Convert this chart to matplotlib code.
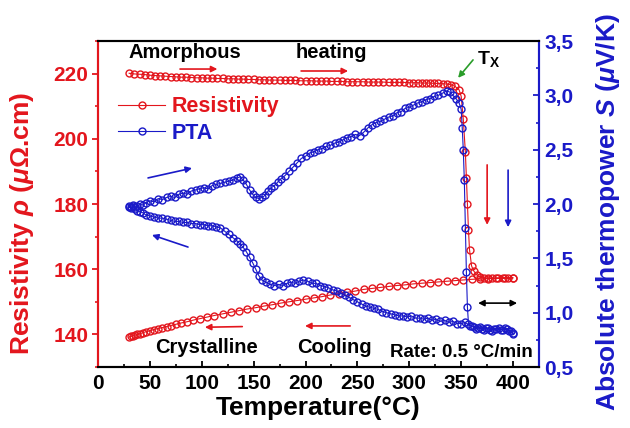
import matplotlib
matplotlib.use('Agg')
import matplotlib.pyplot as plt
from matplotlib.ticker import MultipleLocator, FuncFormatter

plt.rcParams['font.family'] = ['Liberation Sans', 'DejaVu Sans']
plt.rcParams['font.weight'] = 'bold'
plt.rcParams['mathtext.fontset'] = 'custom'
plt.rcParams['mathtext.rm'] = 'Liberation Sans'
plt.rcParams['mathtext.it'] = 'Liberation Sans:italic'
plt.rcParams['mathtext.bf'] = 'Liberation Sans:bold'

RED = '#e3161d'
BLUE = '#1a1ac8'

# resistivity, heating branch (T in C, rho in uOhm.cm)
t_rho_heat = [30, 35, 40, 45, 50, 55, 60, 65, 70, 75, 80, 85, 90, 95, 100, 105, 110, 115,
              120, 125, 130, 135, 140, 145, 150, 155, 160, 165, 170, 175, 180, 185, 190, 195,
              200, 205, 210, 215, 220, 225, 230, 235, 240, 245, 250, 255, 260, 265, 270,
              275, 280, 285, 290, 295, 300, 304, 308, 312, 316, 320, 324, 328, 332, 336,
              340, 344, 348, 350, 352, 354, 355, 356, 357, 358, 360, 362, 365, 368, 372,
              376, 380, 385, 390, 395, 400]
rho_heat = [220.1, 219.9, 219.8, 219.7, 219.5, 219.4, 219.3, 219.2, 219.1, 219.0, 218.9,
            218.9, 218.8, 218.7, 218.7, 218.6, 218.6, 218.5, 218.5, 218.4, 218.4, 218.3,
            218.3, 218.2, 218.2, 218.1, 218.1, 218.0, 218.0, 218.0, 217.9, 217.9, 217.9,
            217.8, 217.8, 217.8, 217.7, 217.7, 217.7, 217.6, 217.6, 217.6, 217.5, 217.5,
            217.5, 217.5, 217.4, 217.4, 217.4, 217.4, 217.3, 217.3, 217.3, 217.3, 217.2,
            217.2, 217.2, 217.1, 217.1, 217.1, 217.0, 217.0, 216.9, 216.8, 216.6, 216.1,
            215.0, 213.0, 206.0, 196.0, 188.0, 180.0, 172.0, 166.0, 161.0, 159.5, 158.3,
            157.6, 157.3, 157.3, 157.3, 157.3, 157.3, 157.3, 157.3]

# resistivity, cooling branch
t_rho_cool = [30, 32, 34, 36, 38, 40, 43, 46, 50, 54, 58, 62, 66, 70, 75, 80, 86, 92, 98,
              105, 112, 120, 128, 136, 144, 152, 160, 168, 176, 184, 192, 200, 208, 216,
              224, 232, 240, 248, 256, 264, 272, 280, 288, 296, 304, 312, 320, 328, 336,
              344, 352, 360, 368, 376, 384, 392, 400]
rho_cool = [139.2, 139.4, 139.6, 139.8, 140.0, 140.2, 140.5, 140.8, 141.1, 141.5, 141.8,
            142.1, 142.4, 142.7, 143.1, 143.5, 143.9, 144.4, 144.8, 145.3, 145.8, 146.3,
            146.8, 147.3, 147.8, 148.2, 148.7, 149.1, 149.6, 150.0, 150.4, 150.8, 151.2,
            151.6, 152.1, 152.5, 152.9, 153.3, 153.8, 154.1, 154.4, 154.7, 155.0, 155.2,
            155.5, 155.7, 155.9, 156.1, 156.3, 156.5, 156.7, 156.9, 157.0, 157.1, 157.2,
            157.3, 157.4]

# thermopower (PTA), heating branch (uV/K)
t_s_heat = [30, 32, 34, 36, 38, 40, 43, 46, 50, 54, 58, 62, 66, 70, 74, 78, 82, 86, 90, 94,
            98, 102, 106, 110, 114, 118, 122, 126, 130, 134, 137, 140, 143, 146, 149, 152,
            155, 158, 161, 164, 167, 170, 173, 176, 180, 184, 188, 192, 196, 200, 204, 208,
            212, 216, 220, 224, 228, 232, 236, 240, 244, 248, 252, 256, 260, 264, 268, 272,
            276, 280, 284, 288, 292, 296, 300, 304, 308, 312, 316, 320, 324, 328, 332, 336,
            339, 342, 345, 348, 350, 351, 352, 353, 354, 355, 356, 357, 360, 364, 368, 372,
            376, 380, 384, 388, 392, 396, 400]
s_heat = [1.98, 1.97, 1.99, 1.97, 1.98, 2.00, 1.99, 2.01, 2.03, 2.02, 2.05, 2.04, 2.06, 2.07,
          2.06, 2.09, 2.10, 2.09, 2.12, 2.13, 2.14, 2.15, 2.14, 2.17, 2.18, 2.19, 2.20, 2.21,
          2.22, 2.24, 2.25, 2.22, 2.18, 2.13, 2.09, 2.06, 2.05, 2.06, 2.08, 2.12, 2.15, 2.17,
          2.20, 2.23, 2.26, 2.30, 2.34, 2.38, 2.42, 2.44, 2.47, 2.48, 2.50, 2.51, 2.53, 2.54,
          2.56, 2.57, 2.59, 2.61, 2.62, 2.64, 2.63, 2.66, 2.70, 2.73, 2.75, 2.76, 2.78, 2.80,
          2.81, 2.84, 2.85, 2.88, 2.89, 2.91, 2.93, 2.94, 2.96, 2.97, 2.99, 3.00, 3.02, 3.04,
          3.03, 3.00, 2.97, 2.93, 2.87, 2.70, 2.50, 2.22, 1.78, 1.37, 1.05, 0.90, 0.88, 0.85,
          0.87, 0.84, 0.86, 0.83, 0.85, 0.84, 0.86, 0.83, 0.81]

# thermopower (PTA), cooling branch
t_s_cool = [30, 32, 34, 36, 38, 40, 43, 46, 50, 54, 58, 62, 66, 70, 74, 78, 82, 86, 90, 94,
            98, 102, 106, 110, 114, 118, 122, 126, 130, 134, 137, 140, 143, 146, 149, 152,
            155, 158, 162, 166, 170, 174, 178, 182, 186, 190, 194, 198, 202, 206, 210, 214,
            218, 222, 226, 230, 234, 238, 242, 246, 250, 254, 258, 262, 266, 270, 274, 278,
            282, 286, 290, 294, 298, 302, 306, 310, 314, 318, 322, 326, 330, 334, 338, 342,
            346, 350, 354, 358, 362, 366, 370, 374, 378, 382, 386, 390, 394, 398, 400]
s_cool = [1.97, 1.96, 1.98, 1.95, 1.94, 1.93, 1.92, 1.90, 1.89, 1.88, 1.87, 1.87, 1.86, 1.85,
          1.84, 1.84, 1.83, 1.83, 1.82, 1.82, 1.81, 1.81, 1.80, 1.80, 1.79, 1.78, 1.75, 1.72,
          1.69, 1.66, 1.63, 1.60, 1.56, 1.51, 1.46, 1.40, 1.34, 1.30, 1.28, 1.26, 1.25, 1.26,
          1.25, 1.27, 1.28, 1.27, 1.29, 1.30, 1.29, 1.27, 1.27, 1.25, 1.24, 1.23, 1.21, 1.20,
          1.18, 1.16, 1.14, 1.12, 1.10, 1.08, 1.06, 1.05, 1.04, 1.03, 1.01, 1.00, 0.99, 0.98,
          0.97, 0.97, 0.96, 0.97, 0.95, 0.95, 0.94, 0.95, 0.93, 0.94, 0.92, 0.93, 0.91, 0.92,
          0.90, 0.90, 0.91, 0.88, 0.87, 0.86, 0.85, 0.86, 0.84, 0.85, 0.86, 0.84, 0.85, 0.83,
          0.80]

fig = plt.figure(figsize=(6.3, 4.28), dpi=100)
ax = fig.add_axes([0.1556, 0.1425, 0.7, 0.7617])
ax2 = ax.twinx()

# one continuous run each: heating up, then cooling back down
t_rho = t_rho_heat + t_rho_cool[::-1]
rho = rho_heat + rho_cool[::-1]
t_s = t_s_heat + t_s_cool[::-1]
s = s_heat + s_cool[::-1]

l1, = ax.plot(t_rho, rho, '-o', color=RED, lw=0.8, ms=5, mfc='none', mew=1.0,
              label='Resistivity')
l2, = ax2.plot(t_s, s, '-o', color=BLUE, lw=0.8, ms=5, mfc='none', mew=1.0,
               label='PTA')

ax.set_xlim(0, 425)
ax.set_ylim(130, 230)
ax2.set_ylim(0.5, 3.5)

ax.xaxis.set_major_locator(MultipleLocator(50))
ax.xaxis.set_minor_locator(MultipleLocator(25))
ax.yaxis.set_major_locator(MultipleLocator(20))
ax.yaxis.set_minor_locator(MultipleLocator(10))
ax2.yaxis.set_major_locator(MultipleLocator(0.5))
ax2.yaxis.set_minor_locator(MultipleLocator(0.25))
ax2.yaxis.set_major_formatter(FuncFormatter(lambda v, p: f'{v:.1f}'.replace('.', ',')))

for a in (ax, ax2):
    a.spines['left'].set_color(RED)
    a.spines['right'].set_color(BLUE)
    a.spines['top'].set_color('black')
    a.spines['bottom'].set_color('black')
    for sp in a.spines.values():
        sp.set_linewidth(1.5)

ax.tick_params(axis='x', which='major', direction='in', length=4, width=1.3,
               labelsize=15, pad=5, top=False)
ax.tick_params(axis='x', which='minor', direction='in', length=2.5, width=1.2, top=False)
ax.tick_params(axis='y', which='major', direction='out', length=4, width=1.3,
               colors=RED, labelsize=15, pad=3)
ax.tick_params(axis='y', which='minor', direction='out', length=2.5, width=1.2, colors=RED)
ax2.tick_params(axis='y', which='major', direction='in', length=4, width=1.3,
                colors=BLUE, labelsize=15, pad=4)
ax2.tick_params(axis='y', which='minor', direction='in', length=2.5, width=1.2, colors=BLUE)
for lab in ax.get_xticklabels() + ax.get_yticklabels() + ax2.get_yticklabels():
    lab.set_fontweight('bold')

ax.set_xlabel('Temperature(°C)', fontsize=19, fontweight='bold', labelpad=2)
ax.set_ylabel(r'Resistivity $\rho$ ($\mu\Omega$.cm)', fontsize=19, fontweight='bold',
              color=RED)
ax2.set_ylabel(r'Absolute thermopower $S$ ($\mu$V/K)', fontsize=19, fontweight='bold',
               color=BLUE)
ax.yaxis.set_label_coords(-0.14, 0.44)
ax2.yaxis.set_label_coords(1.125, 0.475)

leg = ax2.legend(handles=[l1, l2], loc='upper left', bbox_to_anchor=(0.045, 0.83),
                 frameon=False, fontsize=15.5, handlelength=2.2, handletextpad=0.3,
                 labelspacing=0.25, borderpad=0, borderaxespad=0)
for txt, c in zip(leg.get_texts(), (RED, BLUE)):
    txt.set_color(c)
    txt.set_fontweight('bold')

# labels on the plot
ax.text(29, 226.6, 'Amorphous', fontsize=14.5, ha='left', va='center')
ax.text(224.6, 226.6, 'heating', fontsize=14.5, ha='center', va='center')
ax.text(105, 136.1, 'Crystalline', fontsize=14.5, ha='center', va='center')
ax.text(227.5, 136.1, 'Cooling', fontsize=14.5, ha='center', va='center')
ax.text(419, 134.6, 'Rate: 0.5 °C/min', fontsize=13.5, ha='right', va='center')
ax.text(365, 224.6, r'T$_\mathbf{X}$', fontsize=14, ha='left', va='center')

def arrow(x0, y0, x1, y1, c, both=False):
    ax.annotate('', xy=(x1, y1), xytext=(x0, y0),
                arrowprops=dict(arrowstyle='<|-|>' if both else '-|>', color=c,
                                lw=1.2, mutation_scale=9, shrinkA=0, shrinkB=0))

arrow(79, 221.4, 115, 221.4, RED)
arrow(195.7, 220.8, 241, 220.8, RED)
arrow(139, 142.4, 103, 142.2, RED)
arrow(243, 142.6, 199.5, 142.6, RED)
arrow(48.2, 188.0, 90.6, 191.0, BLUE)
arrow(86.7, 166.8, 52.0, 170.5, BLUE)
arrow(375, 192.0, 375, 173.6, RED)
arrow(395.2, 190.4, 395.2, 172.9, BLUE)
arrow(366.3, 149.6, 403.9, 149.6, 'black', both=True)
arrow(361.4, 224.2, 347, 218.7, '#2a9d2a')

fig.savefig('out.png', dpi=100)
